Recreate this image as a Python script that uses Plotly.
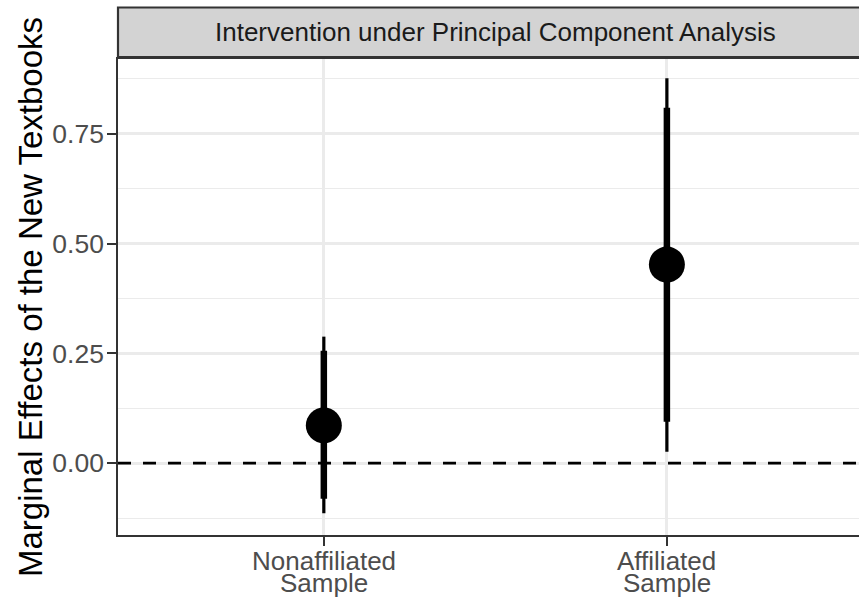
import plotly.graph_objects as go

categories = ["Nonaffiliated Sample", "Affiliated Sample"]
estimates = [0.086, 0.452]
ci_inner_low = [-0.081, 0.094]
ci_inner_high = [0.256, 0.809]
ci_outer_low = [-0.114, 0.026]
ci_outer_high = [0.288, 0.876]
y_tick_vals = [0.0, 0.25, 0.50, 0.75]
y_tick_text = ["0.00", "0.25", "0.50", "0.75"]
strip_title = "Intervention under Principal Component Analysis"
y_title = "Marginal Effects of the New Textbooks"

FONT = "Liberation Sans, Arial, Helvetica, sans-serif"
W, H = 859, 604
ML, MR, MT, MB = 118, 0, 57, 69
plot_h = H - MT - MB

fig = go.Figure()

# outer (thin) intervals
xo, yo = [], []
for c, lo, hi in zip(categories, ci_outer_low, ci_outer_high):
    xo += [c, c, None]
    yo += [lo, hi, None]
fig.add_trace(go.Scatter(x=xo, y=yo, mode="lines",
                         line=dict(color="black", width=3.2),
                         showlegend=False, hoverinfo="skip"))
# inner (thick) intervals
xi, yi = [], []
for c, lo, hi in zip(categories, ci_inner_low, ci_inner_high):
    xi += [c, c, None]
    yi += [lo, hi, None]
fig.add_trace(go.Scatter(x=xi, y=yi, mode="lines",
                         line=dict(color="black", width=6.5),
                         showlegend=False, hoverinfo="skip"))
# point estimates
fig.add_trace(go.Scatter(x=categories, y=estimates, mode="markers",
                         marker=dict(color="black", size=36, line=dict(width=0)),
                         showlegend=False))

# zero reference line
fig.add_shape(type="line", xref="paper", x0=0, x1=1, yref="y", y0=0, y1=0,
              line=dict(color="black", width=2.6, dash="13px,12px"), layer="above")

# facet strip
fig.add_shape(type="rect", xref="paper", x0=0, x1=1.05, yref="paper",
              y0=1, y1=1 + 49.5 / plot_h,
              fillcolor="#D3D3D3", line=dict(color="#333333", width=2.2), layer="above")
fig.add_shape(type="line", xref="paper", x0=0, x1=1.05, yref="paper",
              y0=1 - 1.2 / plot_h, y1=1 - 1.2 / plot_h,
              line=dict(color="#333333", width=1.4), layer="above")
fig.add_annotation(xref="x", x=0.5, yref="paper", y=1 + 25 / plot_h,
                   text=strip_title, showarrow=False, xanchor="center", yanchor="middle",
                   font=dict(family=FONT, size=26, color="#1A1A1A"))

# x category labels (two lines each)
for c in categories:
    parts = c.split(" ")
    fig.add_annotation(xref="x", x=c, yref="paper", y=0, yshift=-26,
                       text=parts[0], showarrow=False, xanchor="center", yanchor="middle",
                       font=dict(family=FONT, size=26, color="#4D4D4D"))
    fig.add_annotation(xref="x", x=c, yref="paper", y=0, yshift=-48,
                       text=parts[1], showarrow=False, xanchor="center", yanchor="middle",
                       font=dict(family=FONT, size=26, color="#4D4D4D"))

# y axis title
fig.add_annotation(xref="paper", x=0, xshift=-88, yref="paper", y=0.5, yshift=-1,
                   text=y_title, textangle=-90, showarrow=False,
                   xanchor="center", yanchor="middle",
                   font=dict(family=FONT, size=33, color="black"))

fig.update_xaxes(type="category", categoryorder="array", categoryarray=categories,
                 range=[-0.6, 1.56], showgrid=True, gridcolor="#EBEBEB", gridwidth=2.6,
                 showline=True, linecolor="#333333", linewidth=1.6,
                 ticks="outside", ticklen=9, tickwidth=2, tickcolor="#333333",
                 showticklabels=False, zeroline=False, fixedrange=True)
fig.update_yaxes(range=[-0.1635, 0.9245], tickvals=y_tick_vals, ticktext=y_tick_text,
                 showgrid=True, gridcolor="#EBEBEB", gridwidth=2.6,
                 minor=dict(dtick=0.125, tick0=0.125, showgrid=True,
                            gridcolor="#EBEBEB", gridwidth=1.4, ticks=""),
                 showline=True, linecolor="#333333", linewidth=1.6,
                 ticks="outside", ticklen=9, tickwidth=2, tickcolor="#333333",
                 ticklabelstandoff=-2,
                 tickfont=dict(family=FONT, size=26.5, color="#4D4D4D"),
                 zeroline=False, fixedrange=True)

fig.update_layout(width=W, height=H, margin=dict(l=ML, r=MR, t=MT, b=MB),
                  plot_bgcolor="white", paper_bgcolor="white",
                  font=dict(family=FONT), showlegend=False)

fig.write_html("out.html", config={"displayModeBar": False},
               post_script="document.body.style.margin='0';")
